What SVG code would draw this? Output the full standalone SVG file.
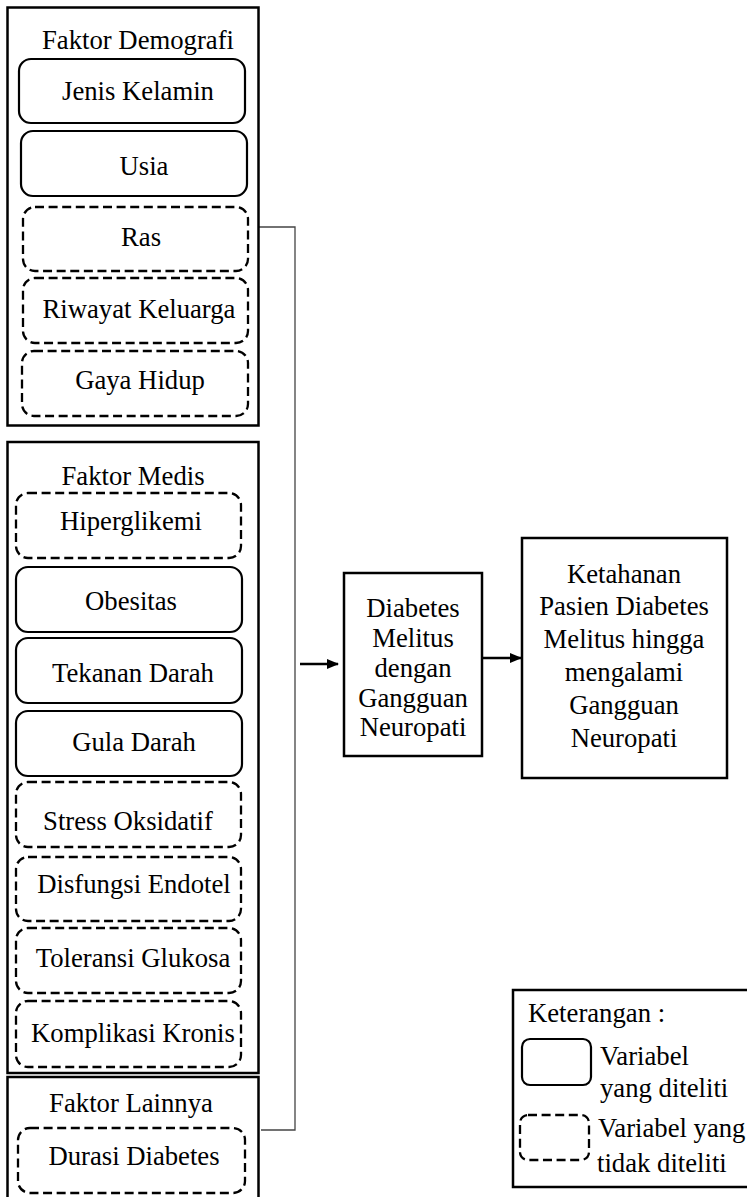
<svg xmlns="http://www.w3.org/2000/svg" width="747" height="1197" viewBox="0 0 747 1197" font-family="'Liberation Serif', Tinos, 'Times New Roman', 'DejaVu Serif', serif">
<style>
text{font-family:'Liberation Serif', Tinos, 'Times New Roman', 'DejaVu Serif', serif;font-size:26.7px;fill:#000}
.c{text-anchor:middle}
.grp{fill:none;stroke:#000;stroke-width:2.5}
.solid{fill:#fff;stroke:#000;stroke-width:2.2}
.dash{fill:#fff;stroke:#000;stroke-width:2.3;stroke-dasharray:9 4.6}
.box{fill:#fff;stroke:#000;stroke-width:2.5}
.conn{fill:none;stroke:#444;stroke-width:1.3}
.arr{fill:none;stroke:#000;stroke-width:2.5}
</style>
<defs>
<marker id="ah" markerWidth="12" markerHeight="10" refX="11" refY="5" orient="auto" markerUnits="userSpaceOnUse">
<path d="M0,0 L12,5 L0,10 Z" fill="#000"/>
</marker>
</defs>
<rect width="747" height="1197" fill="#fff"/>

<g id="connectors">
<polyline class="conn" points="259,227 295,227 295,1130 261,1130"/>
<line class="arr" x1="300" y1="664" x2="338" y2="664" marker-end="url(#ah)"/>
<line class="arr" x1="482" y1="658" x2="521" y2="658" marker-end="url(#ah)"/>
</g>

<g id="faktor-demografi">
<rect class="grp" x="7.5" y="7.5" width="251" height="418"/>
<text class="c" x="138" y="49">Faktor Demografi</text>
</g>
<g id="jenis-kelamin"><rect class="solid" x="19" y="59" width="226" height="64" rx="12"/><text class="c" x="138" y="100">Jenis Kelamin</text></g>
<g id="usia"><rect class="solid" x="21" y="131" width="226" height="65" rx="12"/><text class="c" x="144" y="175">Usia</text></g>
<g id="ras"><rect class="dash" x="23" y="207" width="225" height="64" rx="12"/><text class="c" x="141" y="246">Ras</text></g>
<g id="riwayat-keluarga"><rect class="dash" x="23" y="278" width="225" height="65" rx="12"/><text class="c" x="139" y="318">Riwayat Keluarga</text></g>
<g id="gaya-hidup"><rect class="dash" x="22" y="351" width="226" height="65" rx="12"/><text class="c" x="140" y="389">Gaya Hidup</text></g>

<g id="faktor-medis">
<rect class="grp" x="7.5" y="442" width="251" height="631"/>
<text class="c" x="133" y="485">Faktor Medis</text>
</g>
<g id="hiperglikemi"><rect class="dash" x="16" y="493" width="225" height="65" rx="12"/><text class="c" x="131" y="530">Hiperglikemi</text></g>
<g id="obesitas"><rect class="solid" x="16" y="567" width="226" height="65" rx="12"/><text class="c" x="131" y="610">Obesitas</text></g>
<g id="tekanan-darah"><rect class="solid" x="16" y="638" width="226" height="65" rx="12"/><text class="c" x="133" y="682">Tekanan Darah</text></g>
<g id="gula-darah"><rect class="solid" x="16" y="711" width="226" height="65" rx="12"/><text class="c" x="134" y="751">Gula Darah</text></g>
<g id="stress-oksidatif"><rect class="dash" x="16" y="782" width="225" height="65" rx="12"/><text class="c" x="128" y="830">Stress Oksidatif</text></g>
<g id="disfungsi-endotel"><rect class="dash" x="16" y="857" width="225" height="64" rx="12"/><text class="c" x="134" y="893">Disfungsi Endotel</text></g>
<g id="toleransi-glukosa"><rect class="dash" x="16" y="928" width="225" height="65" rx="12"/><text class="c" x="133" y="967">Toleransi Glukosa</text></g>
<g id="komplikasi-kronis"><rect class="dash" x="16" y="1001" width="225" height="66" rx="12"/><text class="c" x="133" y="1042">Komplikasi Kronis</text></g>

<g id="faktor-lainnya">
<rect class="grp" x="7.5" y="1077" width="251" height="130"/>
<text class="c" x="131" y="1112">Faktor Lainnya</text>
</g>
<g id="durasi-diabetes"><rect class="dash" x="18" y="1128" width="227" height="65" rx="12"/><text class="c" x="134" y="1165">Durasi Diabetes</text></g>

<g id="dm-neuropati">
<rect class="box" x="344" y="573" width="138" height="183"/>
<text class="c" x="413" y="617">Diabetes</text>
<text class="c" x="413" y="647">Melitus</text>
<text class="c" x="413" y="677">dengan</text>
<text class="c" x="413" y="707">Gangguan</text>
<text class="c" x="413" y="736">Neuropati</text>
</g>

<g id="ketahanan">
<rect class="box" x="522" y="538" width="205" height="240"/>
<text class="c" x="624" y="583">Ketahanan</text>
<text class="c" x="624" y="615">Pasien Diabetes</text>
<text class="c" x="624" y="648">Melitus hingga</text>
<text class="c" x="624" y="681">mengalami</text>
<text class="c" x="624" y="714">Gangguan</text>
<text class="c" x="624" y="747">Neuropati</text>
</g>

<g id="legend">
<rect class="box" x="513" y="990" width="250" height="197" stroke-width="2"/>
<text x="528" y="1022">Keterangan :</text>
<rect class="solid" x="522" y="1039" width="69" height="46" rx="8"/>
<text x="600" y="1065">Variabel</text>
<text x="600" y="1097">yang diteliti</text>
<rect class="dash" x="520" y="1115" width="69" height="45" rx="8"/>
<text x="598" y="1137">Variabel yang</text>
<text x="597" y="1172">tidak diteliti</text>
</g>
</svg>
